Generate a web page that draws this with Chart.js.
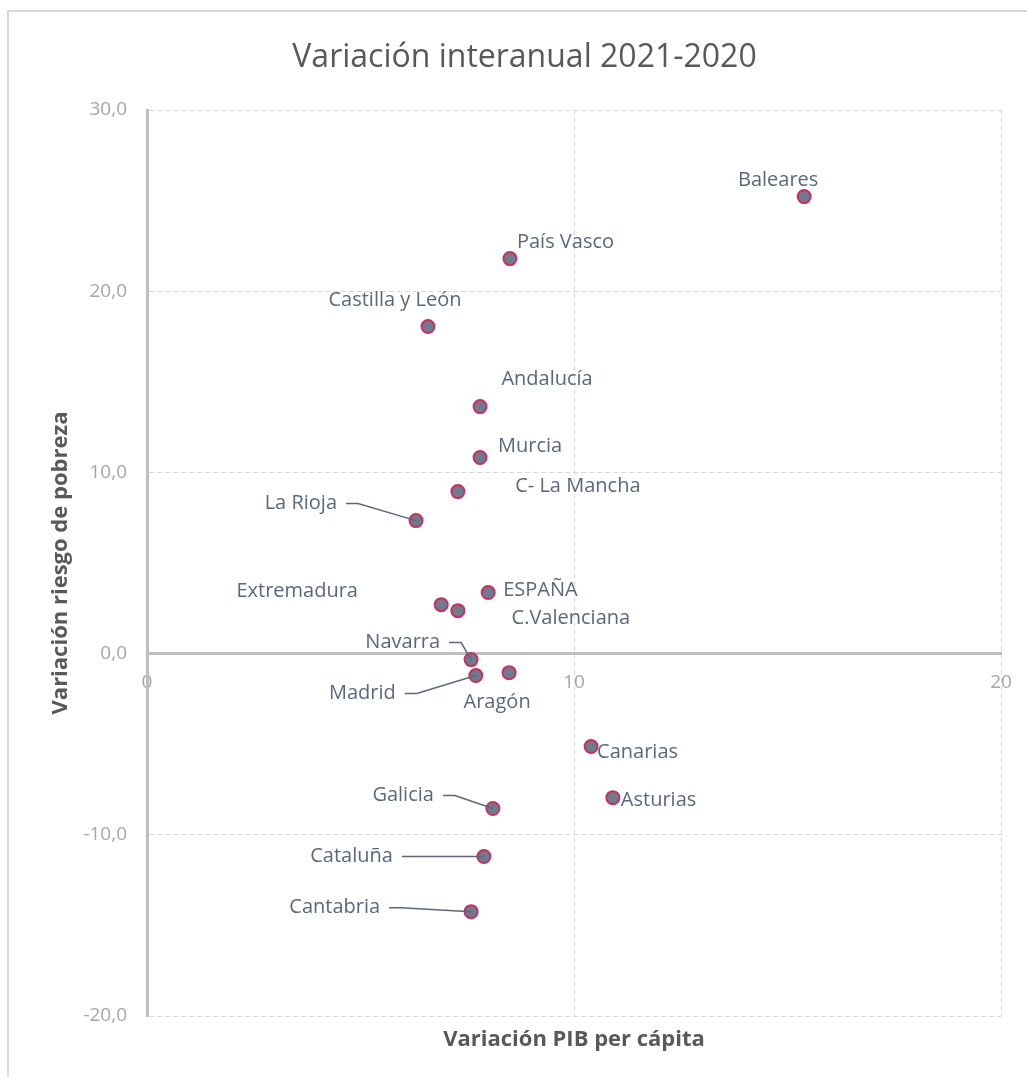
<!DOCTYPE html>
<html lang="es">

<head>
    <meta charset="UTF-8">
    <title>Variación interanual 2021-2020</title>
    <style>
        html, body {
            margin: 0;
            padding: 0;
            width: 1027px;
            height: 1077px;
            overflow: hidden;
            background: #ffffff;
        }

        /* marco del gráfico */
        .marco {
            position: absolute;
            left: 7px;
            top: 10px;
            width: 1100px;
            height: 1150px;
            border: 2px solid #d9d9d9;
        }

        .grafica {
            position: absolute;
            left: 0;
            top: 0;
            width: 1027px;
            height: 1077px;
        }
    </style>
</head>

<body>
    <div class="marco"></div>
    <div class="grafica">
        <canvas id="variacionChart"></canvas>
    </div>

    <script src="https://cdn.jsdelivr.net/npm/chart.js"></script>
    <script>
        // Datos por comunidad autónoma
        const regiones = ['Baleares', 'País Vasco', 'Castilla y León', 'Andalucía', 'Murcia', 'C- La Mancha',
            'La Rioja', 'Extremadura', 'ESPAÑA', 'C.Valenciana', 'Navarra', 'Madrid', 'Aragón',
            'Canarias', 'Asturias', 'Galicia', 'Cataluña', 'Cantabria'];
        const variacionPIB = [15.39, 8.5, 6.58, 7.8, 7.8, 7.28, 6.3, 6.89, 7.99, 7.28, 7.59, 7.7, 8.48,
            10.4, 10.91, 8.1, 7.89, 7.59];
        const variacionPobreza = [25.22, 21.8, 18.05, 13.63, 10.82, 8.94, 7.34, 2.70, 3.37, 2.37, -0.33, -1.21, -1.05,
            -5.13, -7.95, -8.55, -11.2, -14.24];
        const ticksX = [0, 10, 20];
        const ticksY = [-20, -10, 0, 10, 20, 30];

        // Colocación de cada etiqueta respecto a su punto (px); "guia" dibuja la línea de referencia
        const posEtiquetas = [
            { align: 'center', dx: -26, dy: -16 },
            { align: 'left', dx: 7, dy: -16 },
            { align: 'center', dx: -33, dy: -26 },
            { align: 'center', dx: 67, dy: -27 },
            { align: 'center', dx: 50, dy: -11 },
            { align: 'center', dx: 120, dy: -5 },
            { align: 'right', dx: -79, dy: -17, guia: true },
            { align: 'center', dx: -144, dy: -13 },
            { align: 'left', dx: 15, dy: -2 },
            { align: 'center', dx: 113, dy: 8 },
            { align: 'right', dx: -31, dy: -17, guia: true },
            { align: 'right', dx: -80, dy: 18, guia: true },
            { align: 'center', dx: -12, dy: 30 },
            { align: 'left', dx: 6, dy: 6 },
            { align: 'left', dx: 8, dy: 3 },
            { align: 'right', dx: -59, dy: -13, guia: true },
            { align: 'right', dx: -91, dy: 0, guia: true },
            { align: 'right', dx: -91, dy: -4, guia: true }
        ];

        const colorEtiqueta = '#5a687d';
        const colorEje = '#bfbfbf';
        const colorRejilla = '#d9d9d9';
        const colorTicks = '#a6a6a6';

        Chart.defaults.font.family = "'Open Sans', sans-serif";

        // Etiquetas de cada punto con sus líneas guía
        const etiquetasPlugin = {
            id: 'etiquetas',
            afterDatasetsDraw(chart) {
                const ctx = chart.ctx;
                const meta = chart.getDatasetMeta(0);
                ctx.save();
                ctx.font = "20px 'Open Sans', sans-serif";
                ctx.fillStyle = colorEtiqueta;
                ctx.strokeStyle = colorEtiqueta;
                ctx.lineWidth = 1.5;
                ctx.textBaseline = 'middle';
                meta.data.forEach((punto, i) => {
                    const p = posEtiquetas[i];
                    const tx = punto.x + p.dx;
                    const ty = punto.y + p.dy;
                    if (p.guia) {
                        ctx.beginPath();
                        ctx.moveTo(tx + 9, ty);
                        ctx.lineTo(tx + 21, ty);
                        ctx.lineTo(punto.x, punto.y);
                        ctx.stroke();
                    }
                    ctx.textAlign = p.align;
                    ctx.fillText(regiones[i], tx, ty);
                });
                ctx.restore();
            }
        };

        const puntos = variacionPIB.map((x, i) => ({ x: x, y: variacionPobreza[i] }));

        new Chart(document.getElementById('variacionChart'), {
            type: 'scatter',
            data: {
                datasets: [{
                    label: 'Comunidades',
                    data: puntos,
                    pointRadius: 6.5,
                    pointHoverRadius: 6.5,
                    pointBackgroundColor: '#6f7a8e',
                    pointBorderColor: '#c8305e',
                    pointBorderWidth: 2
                }]
            },
            options: {
                responsive: true,
                maintainAspectRatio: false,
                animation: false,
                devicePixelRatio: 1,
                layout: {
                    padding: { left: 48, right: 26, top: 0, bottom: 0 }
                },
                plugins: {
                    legend: { display: false },
                    tooltip: { enabled: false },
                    title: {
                        display: true,
                        text: 'Variación interanual 2021-2020',
                        color: '#595959',
                        font: { size: 32, weight: 'normal' },
                        padding: { top: 39, bottom: 32.6 }
                    }
                },
                scales: {
                    x: {
                        type: 'linear',
                        position: { y: 0 },
                        min: 0,
                        max: 20,
                        afterBuildTicks: scale => { scale.ticks = ticksX.map(v => ({ value: v })); },
                        afterFit: scale => { scale.paddingLeft = 0; scale.paddingRight = 0; },
                        ticks: {
                            color: colorTicks,
                            font: { size: 19 },
                            padding: 18
                        },
                        grid: {
                            color: colorRejilla,
                            lineWidth: 1,
                            drawTicks: false
                        },
                        border: {
                            color: colorEje,
                            width: 3,
                            dash: [5, 3]
                        }
                    },
                    xTitulo: {
                        type: 'linear',
                        axis: 'x',
                        position: 'bottom',
                        min: 0,
                        max: 20,
                        afterFit: scale => { scale.height = 61; scale.paddingLeft = 0; scale.paddingRight = 0; },
                        ticks: { display: false },
                        grid: { display: false },
                        border: { display: false },
                        title: {
                            display: true,
                            text: 'Variación PIB per cápita',
                            color: '#595959',
                            font: { size: 22, weight: 'bold' },
                            padding: { top: 0, bottom: 24 }
                        }
                    },
                    y: {
                        type: 'linear',
                        position: 'left',
                        min: -20,
                        max: 30,
                        afterBuildTicks: scale => { scale.ticks = ticksY.map(v => ({ value: v })); },
                        afterFit: scale => { scale.width = 99; },
                        ticks: {
                            color: colorTicks,
                            font: { size: 19 },
                            padding: 20,
                            callback: v => v.toFixed(1).replace('.', ',')
                        },
                        grid: {
                            color: colorRejilla,
                            lineWidth: 1,
                            drawTicks: false
                        },
                        border: {
                            color: colorEje,
                            width: 3,
                            dash: [5, 3]
                        },
                        title: {
                            display: true,
                            text: 'Variación riesgo de pobreza',
                            color: '#595959',
                            font: { size: 22, weight: 'bold' },
                            padding: { top: 0, bottom: 0 }
                        }
                    }
                }
            },
            plugins: [etiquetasPlugin]
        });
    </script>
</body>

</html>
